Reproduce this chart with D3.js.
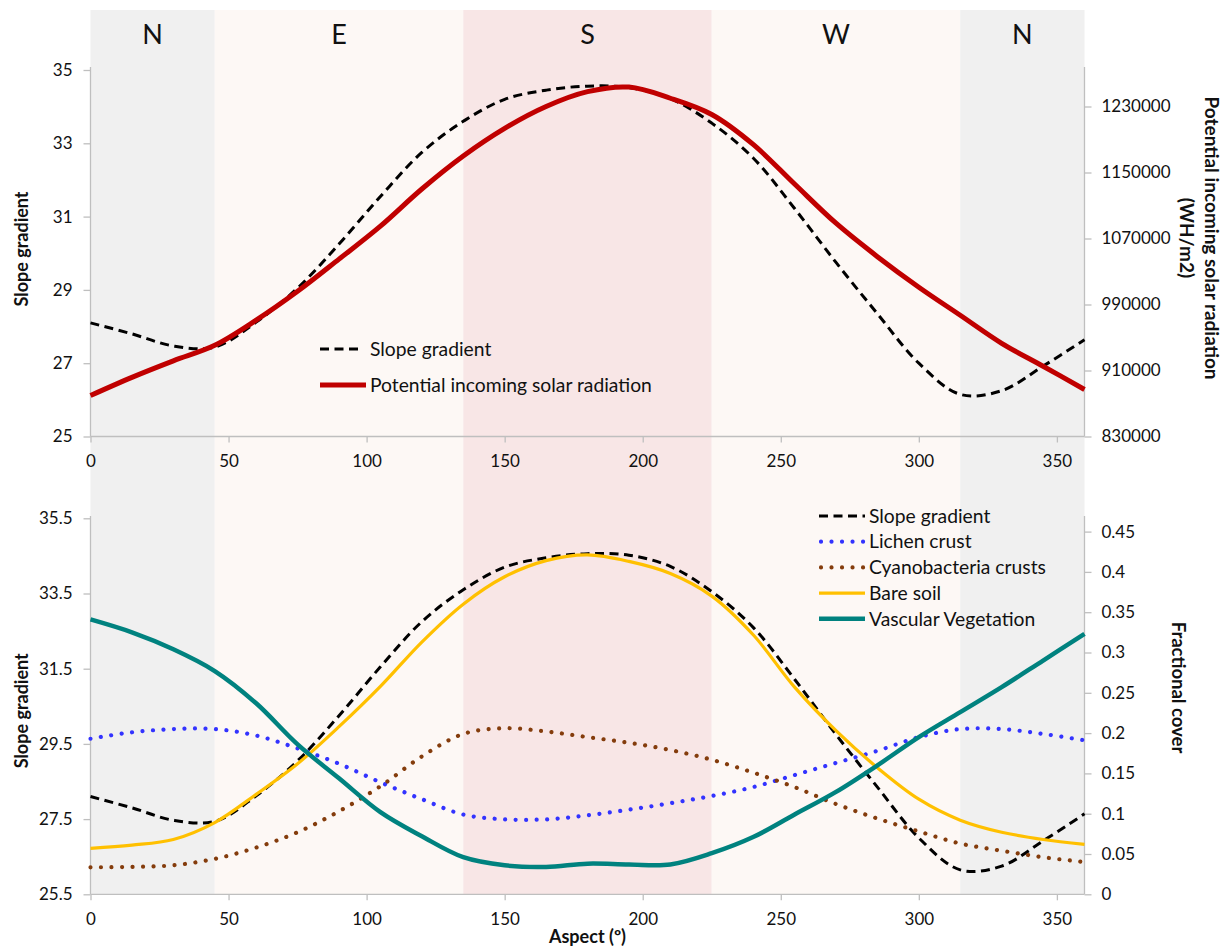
<!DOCTYPE html>
<html><head><meta charset="utf-8">
<script src="https://cdn.jsdelivr.net/npm/d3@7"></script>
<style>
body{margin:0;background:#fff}
svg{display:block}
text{font-family:Lato,"Noto Sans",sans-serif;fill:#111}
</style></head>
<body><svg id="c" width="1228" height="947"></svg>
<script>
// ---------- data ----------
const aspect   = [0,15,30,45,60,75,90,105,120,135,150,165,180,195,210,225,240,255,270,285,300,315,330,345,360];
const slope    = [28.10,27.80,27.47,27.44,28.12,29.05,30.25,31.55,32.75,33.60,34.20,34.45,34.56,34.52,34.22,33.55,32.60,31.22,29.75,28.35,27.00,26.15,26.25,26.92,27.64];
const solar    = [879700,901700,921700,940500,971000,1006000,1045000,1085000,1130000,1170000,1203500,1230000,1248000,1253500,1240000,1220300,1184000,1136000,1088500,1048000,1011000,977000,943000,915200,887000];
const lichen   = [0.193,0.201,0.205,0.205,0.197,0.181,0.162,0.139,0.118,0.099,0.093,0.093,0.098,0.105,0.113,0.122,0.133,0.148,0.163,0.178,0.195,0.205,0.205,0.199,0.191];
const cyano    = [0.0335,0.034,0.036,0.044,0.058,0.077,0.103,0.134,0.171,0.199,0.206,0.202,0.195,0.188,0.179,0.167,0.151,0.133,0.112,0.094,0.078,0.063,0.054,0.046,0.040];
const bare     = [0.057,0.061,0.068,0.089,0.124,0.162,0.208,0.258,0.313,0.360,0.394,0.414,0.421,0.413,0.398,0.370,0.322,0.257,0.203,0.157,0.118,0.092,0.077,0.068,0.062];
const vascular = [0.341,0.325,0.304,0.277,0.237,0.186,0.144,0.102,0.072,0.046,0.036,0.034,0.038,0.037,0.037,0.051,0.071,0.099,0.127,0.160,0.195,0.226,0.257,0.290,0.323];

const sectorLabels = ["N","E","S","W","N"];
const sectorFrom   = [0,45,135,225,315];
const sectorTo     = [45,135,225,315,360];

const xTicks        = [0,50,100,150,200,250,300,350];
const topLeftTicks  = [25,27,29,31,33,35];
const topRightTicks = [830000,910000,990000,1070000,1150000,1230000];
const botLeftTicks  = [25.5,27.5,29.5,31.5,33.5,35.5];
const botRightTicks = [0,0.05,0.1,0.15,0.2,0.25,0.3,0.35,0.4,0.45];

// ---------- layout ----------
const svg = d3.select("#c");
svg.append("rect").attr("width",1228).attr("height",947).attr("fill","#fff");

const x = d3.scaleLinear([0,360],[90.5,1084.5]);
const yTL = d3.scaleLinear([25,35],[436.5,70]);
const yTR = d3.scaleLinear([830000,1230000],[436.5,106.5]);
const yBL = d3.scaleLinear([25.5,35.5],[894.3,518.3]);
const yBR = d3.scaleLinear([0,0.45],[894.3,531.6]);

const bandColor = {N:"#f0f0f0",E:"#fdf8f5",S:"#f8e6e6",W:"#fdf8f5"};
const bandTop = 10, bandBottom = 894.3;

// bands
sectorLabels.forEach((lab,i)=>{
  svg.append("rect")
    .attr("x",x(sectorFrom[i])).attr("y",bandTop)
    .attr("width",x(sectorTo[i])-x(sectorFrom[i]))
    .attr("height",bandBottom-bandTop)
    .attr("fill",bandColor[lab]);
  svg.append("text")
    .attr("x",x((sectorFrom[i]+sectorTo[i])/2)).attr("y",44)
    .attr("text-anchor","middle").attr("font-size",27).text(lab);
});

const axisColor = "#bfbfbf";
function styleAxis(g){
  g.selectAll("line").attr("stroke",axisColor).attr("stroke-width",1.3);
  g.select(".domain").attr("stroke",axisColor).attr("stroke-width",1.3);
  g.selectAll("text").attr("font-size",17).attr("fill","#111").attr("font-family",'Lato,"Noto Sans",sans-serif');
}

function yAxisLeft(scale, ticks, fmt, top){
  const g = svg.append("g").attr("transform",`translate(${x(0)},0)`)
    .call(d3.axisLeft(scale).tickValues(ticks).tickFormat(fmt).tickSize(7).tickSizeOuter(0).tickPadding(11));
  g.select(".domain").attr("d",`M0,${top}V${scale.range()[0]}`);
  styleAxis(g);
}
function yAxisRight(scale, ticks, fmt, top, bottom){
  const g = svg.append("g").attr("transform",`translate(${x(360)},0)`)
    .call(d3.axisRight(scale).tickValues(ticks).tickFormat(fmt).tickSize(7).tickSizeOuter(0).tickPadding(10));
  g.select(".domain").attr("d",`M0,${top}V${bottom}`);
  styleAxis(g);
}
function xAxis(yPos){
  const g = svg.append("g").attr("transform",`translate(0,${yPos})`)
    .call(d3.axisBottom(x).tickValues(xTicks).tickSize(6).tickSizeOuter(0));
  g.select(".domain").attr("d",`M${x(0)},0H${x(360)}`);
  g.selectAll("text").attr("y",25).attr("dy","0.35em");
  styleAxis(g);
}

// top panel axes
xAxis(436.5);
yAxisLeft(yTL, topLeftTicks, d3.format("d"), 67);
yAxisRight(yTR, topRightTicks, d3.format("d"), 67, 436.5);
// bottom panel axes
xAxis(894.3);
yAxisLeft(yBL, botLeftTicks, d3.format(".1f"), 516);
yAxisRight(yBR, botRightTicks, d=>String(+d.toFixed(2)), 516, 894.3);

// ---------- lines ----------
const styles = {
  slope:   {stroke:"#000",     width:3,   dash:"9,5.5", cap:"butt"},
  solar:   {stroke:"#c00000",  width:5,   dash:null,    cap:"butt"},
  lichen:  {stroke:"#3333ff",  width:4.2, dash:"0.01,10.5", cap:"round"},
  cyano:   {stroke:"#843c0c",  width:4.2, dash:"0.01,10.5", cap:"round"},
  bare:    {stroke:"#ffc000",  width:3.2, dash:null,    cap:"butt"},
  vasc:    {stroke:"#00827f",  width:4.5, dash:null,    cap:"butt"}
};
function drawLine(values, yScale, st){
  const line = d3.line().x((d,i)=>x(aspect[i])).y(d=>yScale(d)).curve(d3.curveCatmullRom.alpha(0.5));
  svg.append("path").attr("d",line(values)).attr("fill","none")
    .attr("stroke",st.stroke).attr("stroke-width",st.width)
    .attr("stroke-dasharray",st.dash).attr("stroke-linecap",st.cap).attr("stroke-linejoin","round");
}
// top
drawLine(slope, yTL, styles.slope);
drawLine(solar, yTR, styles.solar);
// bottom
drawLine(slope, yBL, styles.slope);
drawLine(lichen, yBR, styles.lichen);
drawLine(cyano, yBR, styles.cyano);
drawLine(bare, yBR, styles.bare);
drawLine(vascular, yBR, styles.vasc);

// ---------- legends ----------
function legendItem(x1, x2, yPos, st, label, tx){
  svg.append("line").attr("x1",x1).attr("x2",x2).attr("y1",yPos).attr("y2",yPos)
    .attr("stroke",st.stroke).attr("stroke-width",st.width)
    .attr("stroke-dasharray",st.dash).attr("stroke-linecap",st.cap);
  svg.append("text").attr("x",tx).attr("y",yPos).attr("dy","0.35em").attr("font-size",19.3).text(label);
}
legendItem(320,360,349,styles.slope,"Slope gradient",370);
legendItem(320,366,385,styles.solar,"Potential incoming solar radiation",370);

const botLegend = [
  ["Slope gradient",styles.slope],
  ["Lichen crust",styles.lichen],
  ["Cyanobacteria crusts",styles.cyano],
  ["Bare soil",styles.bare],
  ["Vascular Vegetation",styles.vasc]
];
botLegend.forEach((d,i)=>{
  const yy = 516 + i*25.7;
  const st = d[1];
  const x1 = st.cap==="round" ? 821 : 819;
  legendItem(x1,865,yy,st,d[0],869);
});

// ---------- axis titles ----------
function vTitle(xp, yp, rot, txt, size){
  svg.append("text").attr("transform",`translate(${xp},${yp}) rotate(${rot})`)
    .attr("text-anchor","middle").attr("dy","0.35em")
    .attr("font-weight","bold").attr("font-size",size).text(txt);
}
vTitle(21.7,249,-90,"Slope gradient",18);
vTitle(21.7,710.8,-90,"Slope gradient",18);
vTitle(1211.7,238,90,"Potential incoming solar radiation",19);
vTitle(1187,238,90,"(WH/m2)",19);
vTitle(1178,687.5,90,"Fractional cover",18.5);

svg.append("text").attr("x",587.5).attr("y",937).attr("dy","0.35em")
  .attr("text-anchor","middle").attr("font-weight","bold").attr("font-size",18).text("Aspect (º)");
</script></body></html>
